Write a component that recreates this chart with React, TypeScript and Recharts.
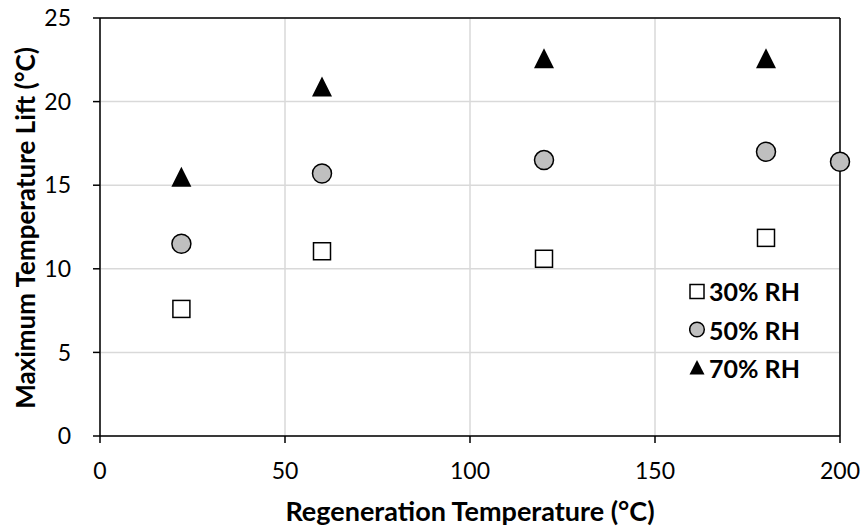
import {
  CartesianGrid,
  ReferenceLine,
  Scatter,
  ScatterChart,
  XAxis,
  YAxis,
} from "recharts";

// Regeneration temperature (°C) vs maximum temperature lift (°C), per RH level.
const rh30X = [22, 60, 120, 180];
const rh30Y = [7.6, 11.05, 10.6, 11.85];
const rh50X = [22, 60, 120, 180, 200];
const rh50Y = [11.5, 15.7, 16.5, 17.0, 16.4];
const rh70X = [22, 60, 120, 180];
const rh70Y = [15.5, 20.9, 22.6, 22.6];

const xTicks = [0, 50, 100, 150, 200];
const yTicks = [0, 5, 10, 15, 20, 25];

const seriesNames = ["30% RH", "50% RH", "70% RH"];

const FONT = "Lato, 'Open Sans', sans-serif";

const toPoints = (xs: number[], ys: number[]) =>
  xs.map((x, i) => ({ x, y: ys[i] }));

const SquareDot = (p: any) => (
  <rect
    x={p.cx - 8.5}
    y={p.cy - 8.5}
    width={17}
    height={17}
    fill="#fff"
    stroke="#000"
    strokeWidth={1.5}
  />
);

const CircleDot = (p: any) => (
  <circle cx={p.cx} cy={p.cy} r={9.5} fill="#bfbfbf" stroke="#000" strokeWidth={1.5} />
);

const TriangleDot = (p: any) => (
  <polygon
    points={`${p.cx},${p.cy - 10} ${p.cx + 10},${p.cy + 10} ${p.cx - 10},${p.cy + 10}`}
    fill="#000"
  />
);

function LegendIcon({ kind }: { kind: number }) {
  return (
    <svg width={17} height={17} style={{ marginRight: 3, flex: "none" }}>
      {kind === 0 && (
        <rect x={1} y={1.5} width={14} height={14} fill="#fff" stroke="#000" strokeWidth={1.5} />
      )}
      {kind === 1 && (
        <circle cx={8} cy={8.5} r={7.3} fill="#bfbfbf" stroke="#000" strokeWidth={1.5} />
      )}
      {kind === 2 && <polygon points="8,1 15.5,15.5 0.5,15.5" fill="#000" />}
    </svg>
  );
}

// legend sits inside the plot, lower right
function RhLegend() {
  return (
    <div
      style={{
        position: "absolute",
        left: 689,
        top: 272,
        width: 150,
        fontFamily: FONT,
      }}
    >
      {seriesNames.map((name, i) => (
        <div
          key={name}
          style={{
            display: "flex",
            alignItems: "center",
            height: 38.4,
            fontWeight: 700,
            fontSize: 25,
            color: "#000",
            whiteSpace: "nowrap",
          }}
        >
          <LegendIcon kind={i} />
          <span>{name}</span>
        </div>
      ))}
    </div>
  );
}

const YLabel = () => (
  <text
    transform="translate(25, 228) rotate(-90)"
    textAnchor="middle"
    dominantBaseline="central"
    fontFamily={FONT}
    fontWeight={700}
    fontSize={26}
    fill="#000"
  >
    Maximum Temperature Lift (°C)
  </text>
);

const XLabel = () => (
  <text
    x={470}
    y={521}
    textAnchor="middle"
    fontFamily={FONT}
    fontWeight={700}
    fontSize={27}
    fill="#000"
  >
    Regeneration Temperature (°C)
  </text>
);

export default function App() {
  const tickStyle = { fontSize: 23, fontFamily: FONT, fill: "#000" };
  return (
    <div
      style={{
        position: "absolute",
        left: 0,
        top: 0,
        width: 864,
        height: 531,
        background: "#fff",
      }}
    >
      <ScatterChart
        width={864}
        height={531}
        margin={{ top: 18, right: 24, bottom: 0, left: 0 }}
      >
        <CartesianGrid stroke="#d9d9d9" strokeWidth={1.5} />
        <XAxis
          type="number"
          dataKey="x"
          domain={[0, 200]}
          ticks={xTicks}
          height={95}
          tickSize={7}
          tickMargin={20}
          tick={tickStyle}
          axisLine={{ stroke: "#000", strokeWidth: 1.5 }}
          tickLine={{ stroke: "#000", strokeWidth: 1.5 }}
          label={<XLabel />}
        />
        <YAxis
          type="number"
          dataKey="y"
          domain={[0, 25]}
          ticks={yTicks}
          width={100}
          tickSize={7}
          tickMargin={22}
          tick={tickStyle}
          axisLine={{ stroke: "#000", strokeWidth: 1.5 }}
          tickLine={{ stroke: "#000", strokeWidth: 1.5 }}
          label={<YLabel />}
        />
        <ReferenceLine y={25} stroke="#000" strokeWidth={1.5} />
        <ReferenceLine x={200} stroke="#000" strokeWidth={1.5} />
        <Scatter
          name={seriesNames[0]}
          data={toPoints(rh30X, rh30Y)}
          shape={SquareDot}
          isAnimationActive={false}
        />
        <Scatter
          name={seriesNames[1]}
          data={toPoints(rh50X, rh50Y)}
          shape={CircleDot}
          isAnimationActive={false}
        />
        <Scatter
          name={seriesNames[2]}
          data={toPoints(rh70X, rh70Y)}
          shape={TriangleDot}
          isAnimationActive={false}
        />
      </ScatterChart>
      <RhLegend />
    </div>
  );
}
